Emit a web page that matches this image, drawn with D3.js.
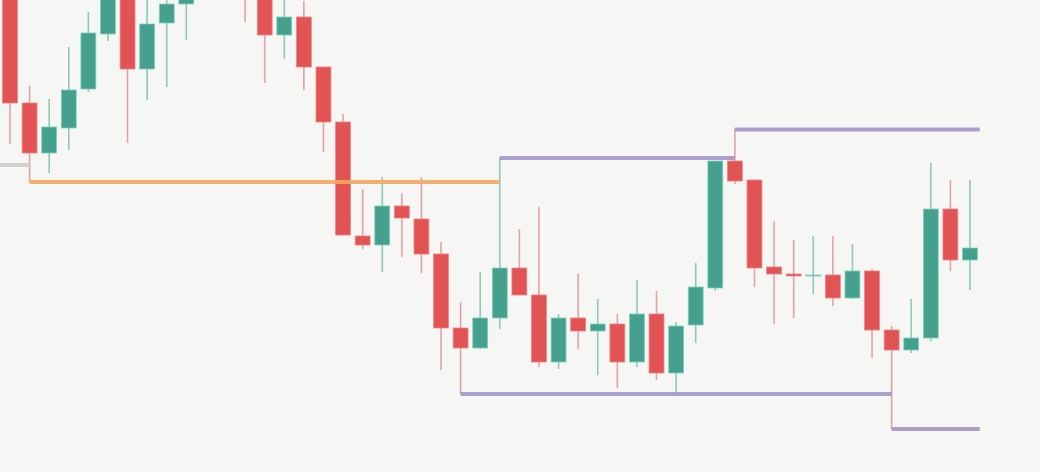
<!DOCTYPE html>
<html lang="en">
<head>
<meta charset="utf-8">
<title>Candles with levels</title>
<script src="https://d3js.org/d3.v7.min.js"></script>
<style>
  html, body { margin: 0; padding: 0; background: #f6f6f5; overflow: hidden; }
  #vis { width: 1040px; height: 472px; }
</style>
</head>
<body>
<div id="vis"></div>
<script>
// candle data, one entry per bar
const open  = [49.2, 36.9, 31.9, 34.4, 38.3, 43.8, 48.2, 40.3, 44.9, 46.8,
               48.7, 52.7, 50.2, 47.7, 43.7, 45.5, 40.5, 35.0, 23.6, 22.7,
               26.6, 25.3, 21.8, 14.4, 12.4, 15.4, 20.4, 17.7, 11.0, 15.4,
               14.1, 14.8, 11.0, 15.8, 9.9, 14.7, 18.4, 31.1, 29.2, 20.5,
               19.8, 19.65, 19.7, 17.4, 20.1, 14.2, 12.2, 13.4, 26.3, 21.2];
const high  = [50.2, 38.6, 37.3, 42.5, 46.0, 48.7, 49.2, 48.2, 48.0, 49.7,
               54.2, 54.7, 51.2, 48.2, 47.7, 47.1, 40.5, 35.8, 28.3, 29.5,
               27.9, 29.5, 23.0, 17.0, 20.0, 31.4, 24.3, 26.5, 15.8, 19.8,
               17.3, 15.8, 19.2, 18.1, 15.0, 20.9, 31.1, 34.3, 29.2, 25.1,
               23.2, 23.6, 23.6, 22.8, 20.3, 14.6, 17.3, 30.9, 29.2, 29.2];
const low   = [32.8, 29.0, 29.9, 32.2, 38.0, 43.1, 32.9, 37.2, 38.5, 43.2,
               47.7, 49.2, 45.0, 38.9, 41.3, 38.2, 32.0, 23.7, 22.3, 20.0,
               21.5, 19.9, 10.2, 7.8, 12.3, 14.3, 17.7, 10.5, 10.3, 12.3,
               9.7, 8.4, 10.5, 9.2, 7.6, 12.9, 18.1, 28.8, 18.5, 14.8,
               15.4, 17.8, 16.6, 17.3, 11.4, 4.3, 11.9, 13.1, 20.1, 18.2];
const close = [36.9, 31.9, 34.5, 38.2, 43.9, 47.7, 40.3, 44.8, 46.8, 48.7,
               52.7, 50.2, 47.7, 43.7, 45.5, 40.5, 35.0, 23.7, 22.7, 26.6,
               25.4, 21.8, 14.4, 12.4, 15.4, 20.4, 17.7, 11.0, 15.4, 14.1,
               14.8, 11.0, 15.8, 9.9, 14.6, 18.5, 31.1, 29.1, 20.4, 19.8,
               19.6, 19.7, 17.4, 20.1, 14.2, 12.2, 13.4, 26.3, 21.2, 22.4];

// swing levels: from bar, to bar, price, kind
const levelFrom  = [-2, 1, 25, 37, 23, 45];
const levelTo    = [1, 25, 37, 49.5, 45, 49.5];
const levelPrice = [30.7, 29.0, 31.4, 34.25, 7.8, 4.3];
const levelKind  = ['old', 'open', 'high', 'high', 'low', 'low'];

const width = 1040;
const height = 472;

const svg = d3.select('#vis')
    .append('svg')
    .attr('width', width)
    .attr('height', height);

const candles = open.map(function(o, i) {
    return { i: i, open: o, high: high[i], low: low[i], close: close[i] };
});

const xScale = d3.scaleLinear()
    .domain([0, candles.length - 1])
    .range([10, 970]);

const yScale = d3.scaleLinear()
    .domain([0, 47.2])
    .range([height, 0]);

const step = xScale(1) - xScale(0);
const bodyW = step * 0.76;

const upColor = '#46a08e', downColor = '#e25353';
const upWick = '#8fc7ba', downWick = '#e3a3a5';
const upEdge = '#7cd0bd', downEdge = '#ee8585';

const levelColors = { old: '#cfcfcf', open: '#f3a862', high: '#a595c9', low: '#a595c9' };

// wicks
svg.append('g')
    .selectAll('line')
    .data(candles)
    .join('line')
    .attr('x1', d => xScale(d.i))
    .attr('x2', d => xScale(d.i))
    .attr('y1', d => yScale(d.high))
    .attr('y2', d => yScale(d.low))
    .attr('stroke', d => d.close >= d.open ? upWick : downWick)
    .attr('stroke-width', 1.6);

// bodies
svg.append('g')
    .selectAll('rect')
    .data(candles)
    .join('rect')
    .attr('x', d => xScale(d.i) - bodyW / 2)
    .attr('y', d => yScale(Math.max(d.open, d.close)))
    .attr('width', bodyW)
    .attr('height', d => Math.max(1, Math.abs(yScale(d.open) - yScale(d.close))))
    .attr('fill', d => d.close >= d.open ? upColor : downColor)
    .attr('stroke', d => d.close >= d.open ? upEdge : downEdge)
    .attr('stroke-width', 0.8);

// level lines on top
svg.append('g')
    .selectAll('line')
    .data(levelPrice)
    .join('line')
    .attr('x1', (p, i) => xScale(levelFrom[i]))
    .attr('x2', (p, i) => xScale(levelTo[i]))
    .attr('y1', p => yScale(p))
    .attr('y2', p => yScale(p))
    .attr('stroke', (p, i) => levelColors[levelKind[i]])
    .attr('stroke-width', 4)
    .attr('opacity', 0.9);
</script>
</body>
</html>
